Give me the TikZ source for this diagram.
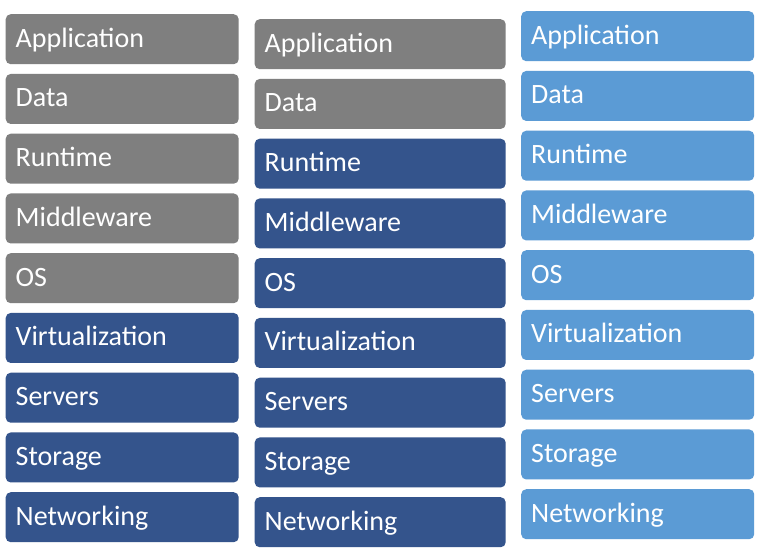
\documentclass[tikz,border=0pt]{standalone}
\usepackage{fontspec}
\setmainfont{Carlito}
\usetikzlibrary{positioning}
\definecolor{layergray}{HTML}{7F7F7F}
\definecolor{layerdark}{HTML}{34548C}
\definecolor{layerlight}{HTML}{5B9BD5}
\tikzset{
 layer/.style={rectangle,rounded corners=5pt,anchor=north west,text=white,inner xsep=10pt,inner ysep=0pt,minimum height=50pt,align=left,text height=20pt,text depth=4pt,font=\fontsize{28}{32}\selectfont},
 narrow/.style={layer,minimum width=233pt,text width=213pt},
 wide/.style={layer,minimum width=251pt,text width=231pt},
 ownlayer/.style={fill=layergray},
 darklayer/.style={fill=layerdark},
 lightlayer/.style={fill=layerlight}
}
\begin{document}
\begin{tikzpicture}[x=1pt,y=-1pt]
\path[use as bounding box,fill=white] (0,0) rectangle (757,555);
% left stack
\node[narrow,ownlayer] (appA) at (5.5,14) {Application};
\node[narrow,ownlayer] (dataA) at (5.5,73.75) {Data};
\node[narrow,ownlayer] (runA) at (5.5,133.5) {Runtime};
\node[narrow,ownlayer] (midA) at (5.5,193.25) {Middleware};
\node[narrow,ownlayer] (osA) at (5.5,253) {OS};
\node[narrow,darklayer] (virtA) at (5.5,312.75) {Virtualization};
\node[narrow,darklayer] (servA) at (5.5,372.5) {Servers};
\node[narrow,darklayer] (storA) at (5.5,432.25) {Storage};
\node[narrow,darklayer] (netA) at (5.5,492) {Networking};
% middle stack
\node[wide,ownlayer] (appB) at (254.5,19) {Application};
\node[wide,ownlayer] (dataB) at (254.5,78.75) {Data};
\node[wide,darklayer] (runB) at (254.5,138.5) {Runtime};
\node[wide,darklayer] (midB) at (254.5,198.25) {Middleware};
\node[wide,darklayer] (osB) at (254.5,258) {OS};
\node[wide,darklayer] (virtB) at (254.5,317.75) {Virtualization};
\node[wide,darklayer] (servB) at (254.5,377.5) {Servers};
\node[wide,darklayer] (storB) at (254.5,437.25) {Storage};
\node[wide,darklayer] (netB) at (254.5,497) {Networking};
% right stack
\node[narrow,lightlayer] (appC) at (521,11) {Application};
\node[narrow,lightlayer] (dataC) at (521,70.75) {Data};
\node[narrow,lightlayer] (runC) at (521,130.5) {Runtime};
\node[narrow,lightlayer] (midC) at (521,190.25) {Middleware};
\node[narrow,lightlayer] (osC) at (521,250) {OS};
\node[narrow,lightlayer] (virtC) at (521,309.75) {Virtualization};
\node[narrow,lightlayer] (servC) at (521,369.5) {Servers};
\node[narrow,lightlayer] (storC) at (521,429.25) {Storage};
\node[narrow,lightlayer] (netC) at (521,489) {Networking};
\end{tikzpicture}
\end{document}
